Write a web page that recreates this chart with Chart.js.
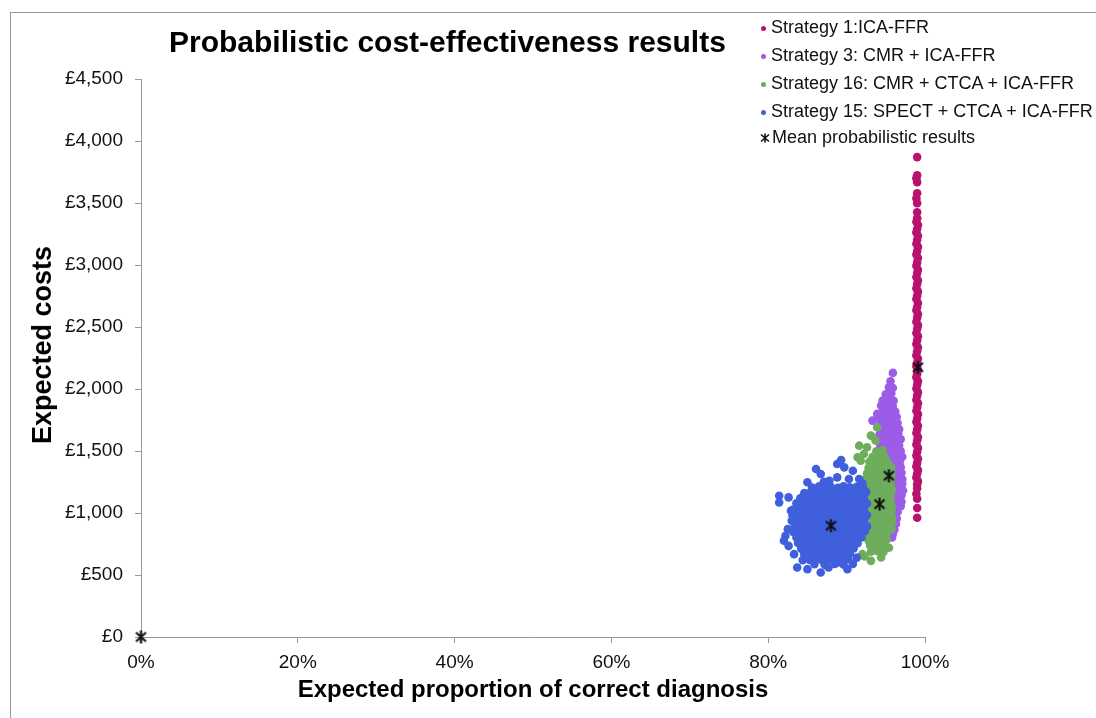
<!DOCTYPE html>
<html>
<head>
<meta charset="utf-8">
<title>Probabilistic cost-effectiveness results</title>
<script src="https://cdn.jsdelivr.net/npm/chart.js@4.4.0/dist/chart.umd.min.js"></script>
<style>
  body { margin: 0; background: #fff; font-family: "Liberation Sans", Arial, sans-serif; }
  #wrap { position: relative; width: 1096px; height: 718px; overflow: hidden; background: #fff; }
  #frame { position: absolute; left: 10px; top: 12px; width: 1200px; height: 800px; border-top: 1px solid #999; border-left: 1px solid #999; }
  #title { position: absolute; left: 169px; top: 27px; font-size: 30px; font-weight: bold; line-height: 30px; color: #000; white-space: nowrap; }
  #ytitle { position: absolute; left: 42px; top: 345px; font-size: 27px; font-weight: bold; line-height: 30px; color: #000; white-space: nowrap;
            transform: translate(-50%, -50%) rotate(-90deg); }
  .leg { position: absolute; left: 760px; font-size: 18px; line-height: 20px; color: #111; white-space: nowrap; }
  .leg i { display: inline-block; width: 5px; height: 5px; border-radius: 50%; margin: 0 5px 0 1px; vertical-align: middle; }
  .leg svg { vertical-align: middle; margin-right: 2px; }
  canvas { position: absolute; left: 0; top: 0; }
</style>
</head>
<body>
<div id="wrap">
  <div id="frame"></div>
  <canvas id="ce-chart" width="1096" height="718"></canvas>
  <div id="title">Probabilistic cost-effectiveness results</div>
  <div id="ytitle">Expected costs</div>
  <div id="legend"></div>
</div>
<script>
// legend / series names
const seriesNames = [
  'Strategy 1:ICA-FFR',
  'Strategy 3: CMR + ICA-FFR',
  'Strategy 16: CMR + CTCA + ICA-FFR',
  'Strategy 15: SPECT + CTCA + ICA-FFR',
  'Mean probabilistic results'
];
const seriesColors = ['#b8126e', '#9d5ce8', '#6dad5b', '#3f5fdc', '#111'];

// axis ticks
const xTicks = [0, 20, 40, 60, 80, 100];   // % correct diagnosis
const yTicks = [0, 500, 1000, 1500, 2000, 2500, 3000, 3500, 4000, 4500]; // £

// [proportion correct (%), expected cost (£)]
const strategy1 = [
  [99.0,3870],[99.0,3724],[98.9,3700],[99.0,3668],[99.0,3579],[98.9,3538],[99.0,3498],[99.0,3425],
  [99.0,3378],[98.9,3349],[99.1,3322],[99.0,3291],[98.9,3263],[99.1,3236],[99.0,3204],[98.9,3171],
  [99.1,3146],[99.0,3113],[98.9,3084],[99.1,3057],[99.0,3021],[98.9,2994],[99.1,2962],[99.0,2935],
  [98.9,2903],[99.1,2874],[99.0,2846],[98.9,2812],[99.1,2785],[99.0,2753],[98.9,2726],[99.1,2694],
  [99.0,2661],[98.9,2635],[99.1,2603],[99.0,2574],[98.9,2542],[99.1,2513],[99.0,2486],[98.9,2452],
  [99.1,2425],[99.0,2393],[98.9,2362],[99.1,2334],[99.0,2305],[98.9,2271],[99.1,2244],[99.0,2212],
  [98.9,2183],[99.1,2157],[99.0,2122],[98.9,2094],[99.1,2063],[99.0,2035],[98.9,2004],[99.1,1973],
  [99.0,1946],[98.9,1912],[99.1,1885],[99.0,1853],[98.9,1824],[99.1,1796],[99.0,1762],[98.9,1735],
  [99.1,1703],[99.0,1674],[98.9,1645],[99.1,1613],[99.0,1586],[98.9,1552],[99.1,1525],[99.0,1494],
  [98.9,1463],[99.1,1437],[99.0,1404],[98.9,1376],[99.1,1345],[99.0,1316],[98.9,1287],[99.1,1255],
  [99.0,1232],[99.0,1200],[98.9,1155],[99.0,1115],[99.0,1040],[99.0,962]
];

const strategy3 = [
  [95.9,2130],[95.6,2062],[95.4,2015],[95.9,2008],[95.0,1958],[95.7,1964],[94.6,1907],[95.4,1912],
  [96.0,1905],[94.4,1866],[95.1,1858],[95.9,1862],[93.9,1799],[94.6,1815],[95.4,1810],[96.2,1818],
  [93.3,1745],[94.2,1768],[95.0,1772],[95.8,1765],[96.4,1774],[94.3,1722],[95.1,1728],[95.9,1720],
  [96.5,1726],[94.5,1683],[95.3,1678],[96.1,1685],[96.7,1676],[94.2,1632],[95.0,1638],[95.8,1630],
  [96.6,1637],[94.0,1592],[94.8,1586],[95.6,1594],[96.4,1588],[96.9,1595],[94.3,1547],[95.1,1542],
  [95.9,1550],[96.7,1544],[94.6,1503],[95.4,1497],[96.2,1505],[96.9,1499],[95.0,1457],[95.8,1452],
  [96.6,1460],[97.1,1454],[95.2,1412],[96.0,1408],[96.8,1415],[95.3,1366],[96.1,1362],[96.9,1369],
  [95.4,1322],[96.2,1317],[97.0,1324],[95.5,1273],[96.3,1279],[97.1,1271],[95.5,1233],[96.3,1227],
  [97.1,1235],[95.6,1183],[96.4,1189],[97.2,1181],[95.5,1142],[96.3,1136],[97.0,1144],[95.6,1093],
  [96.4,1099],[97.0,1091],[95.6,1052],[96.4,1046],[96.9,1054],[95.7,1003],[96.5,1008],[95.6,962],
  [96.4,956],[95.5,917],[96.3,912],[95.6,872],[96.1,866],[95.9,830],[95.8,802]
];

const strategy16 = [
  [93.8,1498],[94.6,1505],[93.3,1452],[94.1,1460],[94.9,1449],
  [92.9,1413],[93.7,1406],[94.5,1415],[95.2,1408],
  [92.8,1362],[93.5,1369],[94.3,1360],[95.1,1367],[95.7,1371],
  [92.6,1318],[93.4,1324],[94.2,1315],[95.0,1322],[95.7,1317],
  [92.5,1277],[93.3,1271],[94.1,1279],[94.9,1273],[95.7,1270],
  [92.4,1226],[93.2,1233],[94.0,1228],[94.8,1235],[95.6,1224],
  [92.5,1188],[93.3,1181],[94.1,1190],[94.9,1183],[95.8,1187],
  [92.4,1137],[93.2,1143],[94.0,1136],[94.8,1145],[95.6,1139],
  [92.4,1098],[93.2,1092],[94.0,1099],[94.8,1091],[95.6,1097],
  [92.5,1047],[93.3,1053],[94.1,1046],[94.9,1055],[95.8,1049],
  [92.4,1008],[93.2,1001],[94.0,1010],[94.8,1003],[95.7,1006],
  [92.5,957],[93.3,964],[94.1,958],[94.9,962],[95.8,955],
  [92.6,918],[93.4,911],[94.2,920],[95.0,913],[95.8,917],
  [92.6,867],[93.4,873],[94.2,866],[95.0,874],[95.7,869],
  [92.7,828],[93.5,821],[94.3,830],[95.1,823],
  [92.8,777],[93.6,784],[94.4,776],[95.1,782],
  [93.0,738],[93.8,731],[94.6,740],
  [93.1,688],[93.9,694],[94.7,686],
  [93.1,614],[94.4,641],[92.0,668],[92.3,650],[95.4,720],
  [93.9,1691],[93.1,1624],[93.7,1584],[91.6,1543],[92.6,1530],[92.2,1476],[91.4,1449],[91.8,1422]
];

const strategy15 = [
  [85.6,1205],[86.5,1215],[87.2,1208],[88.0,1212],[88.9,1203],[89.6,1216],[90.4,1207],[91.3,1211],[92.1,1204],
  [84.6,1160],[85.4,1170],[86.1,1163],[87.0,1168],[87.7,1158],[88.5,1166],[89.3,1171],[90.1,1162],[90.9,1167],[91.7,1160],[92.5,1169],
  [84.1,1118],[84.9,1124],[85.8,1115],[86.5,1122],[87.4,1119],[88.1,1126],[88.9,1116],[89.8,1121],[90.5,1125],[91.3,1117],[92.2,1123],
  [83.6,1078],[84.5,1070],[85.3,1076],[86.1,1081],[86.9,1072],[87.8,1077],[88.5,1069],[89.4,1079],[90.1,1074],[90.9,1080],[91.8,1071],[92.6,1076],
  [83.2,1027],[84.1,1034],[84.9,1029],[85.7,1025],[86.5,1033],[87.3,1028],[88.2,1035],[88.9,1026],[89.7,1031],[90.6,1024],[91.4,1032],[92.2,1029],
  [83.1,982],[83.7,990],[84.5,984],[85.3,988],[86.1,981],[86.9,987],[87.7,992],[88.6,983],[89.3,986],[90.2,980],[91.0,989],[91.8,985],[92.6,982],
  [83.0,937],[83.9,944],[84.8,939],[85.6,942],[86.4,935],[87.3,941],[88.1,946],[88.9,938],[89.7,943],[90.5,936],[91.4,940],[92.2,945],
  [83.4,893],[84.3,899],[85.1,891],[86.0,897],[86.8,900],[87.6,892],[88.4,896],[89.3,890],[90.1,898],[90.9,894],[91.7,899],[92.6,892],
  [83.2,848],[84.0,853],[84.8,846],[85.7,851],[86.5,855],[87.3,847],[88.1,852],[88.9,849],[89.8,854],[90.6,845],[91.4,850],[92.3,853],
  [83.6,803],[84.4,808],[85.3,801],[86.1,806],[86.9,810],[87.7,802],[88.6,807],[89.4,800],[90.2,805],[91.0,809],[91.9,803],
  [83.8,758],[84.7,763],[85.5,756],[86.4,761],[87.2,765],[88.0,757],[88.8,762],[89.7,759],[90.5,764],[91.4,757],
  [84.2,713],[85.1,718],[85.9,711],[86.7,716],[87.6,720],[88.4,712],[89.2,717],[90.0,710],[90.9,715],
  [84.6,668],[85.5,673],[86.3,666],[87.1,671],[87.9,675],[88.8,667],[89.6,672],[90.4,669],
  [85.3,622],[86.1,628],[86.9,620],[87.8,626],[88.6,630],[89.4,621],[90.2,627],
  [85.9,588],[87.2,582],[88.5,590],[89.6,584],
  // scattered edge points
  [89.3,1428],[88.8,1395],[89.7,1368],[86.1,1355],[86.7,1315],[90.8,1341],[87.8,1260],[87.1,1252],
  [88.8,1287],[90.3,1274],[91.6,1274],[92.0,1240],[85.0,1248],
  [81.4,1139],[81.4,1085],[82.6,1126],[82.9,1018],[82.2,816],[82.0,776],[82.6,735],[83.3,668],[82.5,870],
  [83.7,560],[85.0,547],[86.7,520],[87.7,560],[88.8,600],[90.8,590],[90.1,547],[84.4,620],[91.3,640]
];

const meanResults = [[0,0],[99.1,2175],[95.4,1300],[94.2,1072],[88.0,897]];

// asterisk-like marker used for the means
function meanMarker() {
  const c = document.createElement('canvas');
  c.width = 15; c.height = 15;
  const g = c.getContext('2d');
  g.strokeStyle = '#111';
  g.lineWidth = 2.2;
  g.beginPath();
  g.moveTo(2.5, 3); g.lineTo(12.5, 12);
  g.moveTo(12.5, 3); g.lineTo(2.5, 12);
  g.moveTo(7.5, 1); g.lineTo(7.5, 14);
  g.stroke();
  return c;
}

// html legend top right
const legendEl = document.getElementById('legend');
const legendRows = [27, 55, 83, 111, 137];
seriesNames.forEach((name, i) => {
  const row = document.createElement('div');
  row.className = 'leg';
  row.style.top = (legendRows[i] - 10) + 'px';
  if (i < 4) {
    row.innerHTML = `<i style="background:${seriesColors[i]}"></i>${name}`;
  } else {
    row.innerHTML = `<svg width="10" height="10" viewBox="0 0 10 10"><path d="M1 1.5L9 8.5M9 1.5L1 8.5M5 0.5V9.5" stroke="#111" stroke-width="1.6"/></svg>${name}`;
  }
  legendEl.appendChild(row);
});

Chart.defaults.font.family = '"Liberation Sans", Arial, sans-serif';
const toXY = arr => arr.map(p => ({ x: p[0], y: p[1] }));
const pointSet = (data, i, order) => ({
  label: seriesNames[i],
  data: toXY(data),
  backgroundColor: seriesColors[i],
  borderWidth: 0,
  pointRadius: 4.3,
  pointHoverRadius: 4.3,
  order: order
});

const ctx = document.getElementById('ce-chart').getContext('2d');
new Chart(ctx, {
  type: 'scatter',
  data: {
    datasets: [
      pointSet(strategy1, 0, 4),
      pointSet(strategy3, 1, 3),
      pointSet(strategy16, 2, 2),
      pointSet(strategy15, 3, 1),
      {
        label: seriesNames[4],
        data: toXY(meanResults),
        pointStyle: meanMarker(),
        pointRadius: 7,
        clip: false,
        order: 0
      }
    ]
  },
  options: {
    responsive: false,
    animation: false,
    devicePixelRatio: 1,
    events: [],
    layout: { padding: { top: 79, right: 171, left: 0, bottom: 0 } },
    plugins: { legend: { display: false }, tooltip: { enabled: false }, title: { display: false } },
    scales: {
      x: {
        type: 'linear', min: 0, max: 100,
        afterBuildTicks: s => { s.ticks = xTicks.map(v => ({ value: v })); },
        afterFit: s => { s.height = 81; },
        ticks: { padding: 8, color: '#111', font: { size: 19 }, callback: v => v + '%' },
        grid: { drawOnChartArea: false, tickLength: 6, color: '#999' },
        border: { color: '#999' },
        title: {
          display: true, text: 'Expected proportion of correct diagnosis',
          color: '#000', font: { size: 24, weight: 'bold' }, padding: { top: 0, bottom: 13 }
        }
      },
      y: {
        type: 'linear', min: 0, max: 4500,
        afterBuildTicks: s => { s.ticks = yTicks.map(v => ({ value: v })); },
        afterFit: s => { s.width = 141; },
        ticks: { padding: 12, color: '#111', font: { size: 19 }, callback: v => '£' + v.toLocaleString('en-GB') },
        grid: { drawOnChartArea: false, tickLength: 6, color: '#999' },
        border: { color: '#999' },
        title: { display: false }
      }
    }
  }
});
</script>
</body>
</html>
